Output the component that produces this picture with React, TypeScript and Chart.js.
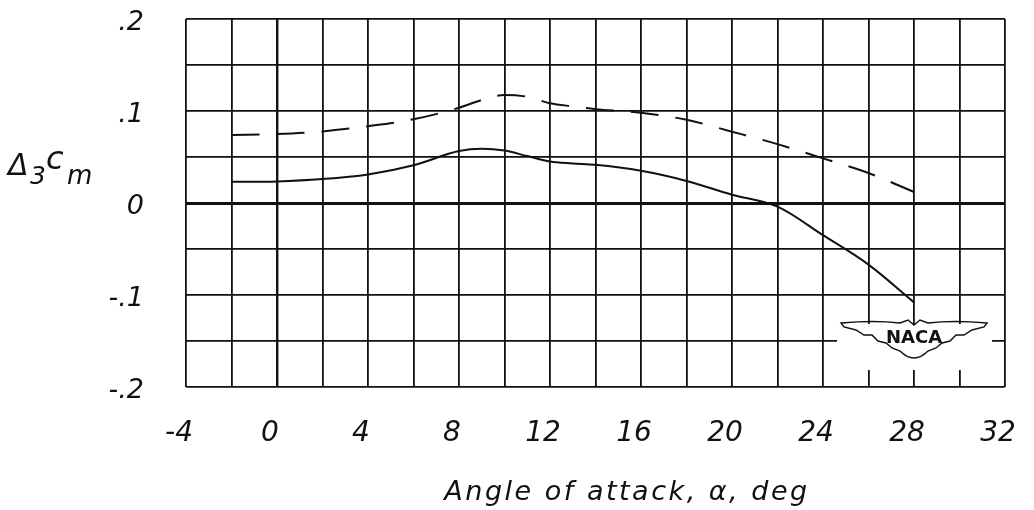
import React, { useEffect, useRef } from 'react';
import { Chart, registerables } from 'chart.js';

Chart.register(...registerables);

// Angle of attack (deg)
const angles = [-2, 0, 2, 4, 6, 8, 9, 10, 11, 12, 13, 14, 16, 18, 20, 22, 24, 26, 28];
// Solid curve, Δ3 Cm
const solidValues = [0.023, 0.0235, 0.026, 0.031, 0.041, 0.0565, 0.059, 0.057, 0.051, 0.045, 0.043, 0.0415, 0.035, 0.024, 0.009, -0.004, -0.035, -0.067, -0.108];
// Dashed curve, Δ3 Cm
const dashedValues = [0.074, 0.075, 0.0778, 0.0835, 0.091, 0.1035, 0.112, 0.1175, 0.1155, 0.1085, 0.105, 0.102, 0.098, 0.0905, 0.0775, 0.064, 0.0485, 0.0326, 0.012];

const xMin = -4;
const xMax = 32;
const yMin = -0.2;
const yMax = 0.2;
const xLabelValues = [-4, 0, 4, 8, 12, 16, 20, 24, 28, 32];
const yLabelMap: Record<string, string> = { '0.2': '.2', '0.1': '.1', '0': '0', '-0.1': '-.1', '-0.2': '-.2' };
const xTitle = 'Angle of attack, α, deg';

const FONT = '"DejaVu Sans", sans-serif';

const decorPlugin = {
  id: 'decor',
  afterDatasetsDraw(chart: any) {
    const ctx = chart.ctx;
    const xs = chart.scales.x;
    const ys = chart.scales.y;
    const cx = xs.getPixelForValue(28);
    const cy = ys.getPixelForValue(-0.15) - 1;
    ctx.save();
    // blank area behind the logo
    ctx.fillStyle = '#ffffff';
    ctx.fillRect(cx - 77, cy - 16, 155, 46);
    // wings
    ctx.strokeStyle = '#111';
    ctx.lineWidth = 1.4;
    ctx.beginPath();
    ctx.moveTo(cx - 73, cy - 17);
    ctx.quadraticCurveTo(cx - 40, cy - 20, cx - 14, cy - 17);
    ctx.lineTo(cx - 6, cy - 20);
    ctx.lineTo(cx, cy - 15);
    ctx.lineTo(cx + 6, cy - 20);
    ctx.lineTo(cx + 14, cy - 17);
    ctx.quadraticCurveTo(cx + 40, cy - 20, cx + 73, cy - 17);
    ctx.lineTo(cx + 70, cy - 13);
    ctx.lineTo(cx + 58, cy - 10);
    ctx.lineTo(cx + 50, cy - 5);
    ctx.lineTo(cx + 42, cy - 5);
    ctx.lineTo(cx + 36, cy + 1);
    ctx.lineTo(cx + 28, cy + 3);
    ctx.lineTo(cx + 22, cy + 8);
    ctx.lineTo(cx + 14, cy + 11);
    ctx.quadraticCurveTo(cx, cy + 25, cx - 14, cy + 11);
    ctx.lineTo(cx - 22, cy + 8);
    ctx.lineTo(cx - 28, cy + 3);
    ctx.lineTo(cx - 36, cy + 1);
    ctx.lineTo(cx - 42, cy - 5);
    ctx.lineTo(cx - 50, cy - 5);
    ctx.lineTo(cx - 58, cy - 10);
    ctx.lineTo(cx - 70, cy - 13);
    ctx.closePath();
    ctx.stroke();
    ctx.fillStyle = '#111';
    ctx.font = `bold 18px ${FONT}`;
    ctx.textAlign = 'center';
    ctx.textBaseline = 'middle';
    ctx.fillText('NACA', cx, cy - 2);
    ctx.restore();
  },
  afterDraw(chart: any) {
    const ctx = chart.ctx;
    ctx.save();
    ctx.fillStyle = '#111';
    ctx.textBaseline = 'alphabetic';
    ctx.textAlign = 'left';
    // Y axis title: Δ3 cm
    ctx.font = `italic 30px ${FONT}`;
    ctx.fillText('Δ', 8, 175);
    ctx.font = `italic 25px ${FONT}`;
    ctx.fillText('3', 30, 184);
    ctx.font = `italic 32px ${FONT}`;
    ctx.fillText('c', 46, 169);
    ctx.font = `italic 26px ${FONT}`;
    ctx.fillText('m', 67, 184);
    // X axis title
    ctx.font = `italic 27px ${FONT}`;
    (ctx as any).letterSpacing = '2.5px';
    ctx.textAlign = 'center';
    ctx.fillText(xTitle, 627, 500);
    ctx.restore();
  },
};

export default function App() {
  const canvasRef = useRef<HTMLCanvasElement | null>(null);

  useEffect(() => {
    if (!canvasRef.current) return;
    const chart = new Chart(canvasRef.current, {
      type: 'line',
      data: {
        datasets: [
          {
            label: 'solid',
            data: angles.map((a, i) => ({ x: a, y: solidValues[i] })),
            borderColor: '#111',
            borderWidth: 2,
            pointRadius: 0,
            fill: false,
            cubicInterpolationMode: 'monotone',
          },
          {
            label: 'dashed',
            data: angles.map((a, i) => ({ x: a, y: dashedValues[i] })),
            borderColor: '#111',
            borderWidth: 2,
            borderDash: [28, 17],
            pointRadius: 0,
            fill: false,
            cubicInterpolationMode: 'monotone',
          },
        ],
      },
      options: {
        animation: false,
        responsive: true,
        maintainAspectRatio: false,
        layout: { padding: { top: 19, right: 29, left: 0, bottom: 0 } },
        plugins: {
          legend: { display: false },
          tooltip: { enabled: false },
        },
        scales: {
          x: {
            type: 'linear',
            min: xMin,
            max: xMax,
            afterFit(scale: any) {
              scale.height = 123;
              scale.paddingLeft = 0;
              scale.paddingRight = 0;
            },
            border: { display: false },
            grid: {
              color: '#111',
              lineWidth: (c: any) => (c.tick && c.tick.value === 0 ? 2.4 : 1.8),
              drawTicks: false,
            },
            ticks: {
              stepSize: 2,
              autoSkip: false,
              maxRotation: 0,
              padding: 30,
              labelOffset: -7,
              color: '#111',
              font: { family: FONT, size: 28, style: 'italic' },
              callback: (v: any) => (xLabelValues.includes(Number(v)) ? String(v) : ''),
            },
          },
          y: {
            type: 'linear',
            min: yMin,
            max: yMax,
            afterFit(scale: any) {
              scale.width = 186;
              scale.paddingTop = 0;
              scale.paddingBottom = 0;
            },
            border: { display: false },
            grid: {
              color: '#111',
              lineWidth: (c: any) => (c.tick && Math.abs(c.tick.value) < 1e-9 ? 3 : 1.8),
              drawTicks: false,
            },
            ticks: {
              stepSize: 0.05,
              autoSkip: false,
              padding: 42,
              labelOffset: 4,
              color: '#111',
              font: { family: FONT, size: 27, style: 'italic' },
              callback: (v: any) => {
                const key = String(Math.round(Number(v) * 100) / 100);
                return yLabelMap[key] !== undefined ? yLabelMap[key] : '';
              },
            },
          },
        },
      },
      plugins: [decorPlugin],
    });
    return () => chart.destroy();
  }, []);

  return (
    <div style={{ position: 'fixed', left: 0, top: 0, width: 1034, height: 510, background: '#fff' }}>
      <canvas ref={canvasRef} />
    </div>
  );
}
